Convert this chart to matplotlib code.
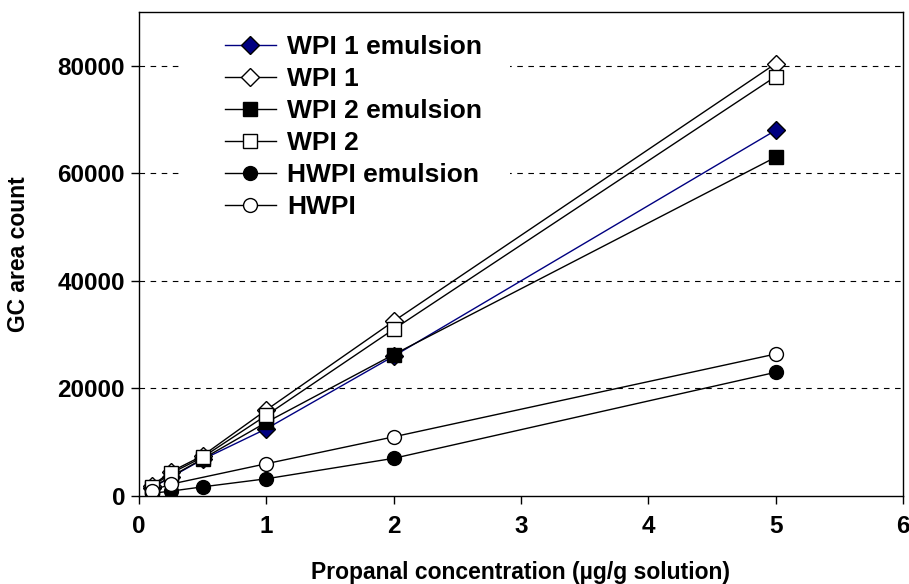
import numpy as np
import matplotlib
matplotlib.use("Agg")
import matplotlib.pyplot as plt
from matplotlib.patches import Rectangle

plt.rcParams['font.family'] = ['Liberation Sans', 'DejaVu Sans']
plt.rcParams['font.weight'] = 'bold'

# concentrations (ug/g)
conc = [0.1, 0.25, 0.5, 1, 2, 5]
conc_hwpi = [0.1, 0.25, 1, 2, 5]

# GC area counts
wpi1_em = [1500, 3500, 6800, 12500, 26000, 68000]
wpi1 = [1900, 4500, 7500, 16000, 32500, 80400]
wpi2_em = [1500, 3600, 6900, 13700, 26300, 63000]
wpi2 = [1700, 4200, 7200, 15000, 31000, 78000]
hwpi_em = [500, 900, 1700, 3200, 7000, 23000]
hwpi = [1000, 2200, 6000, 11000, 26400]

fig = plt.figure(figsize=(9.09, 5.84), dpi=100)
ax = fig.add_axes([0.1529, 0.1507, 0.8405, 0.8288])

ax.plot(conc, wpi1_em, color='#000080', lw=1, marker='D', ms=9,
        mfc='#000080', mec='black', mew=1, label='WPI 1 emulsion')
ax.plot(conc, wpi1, color='black', lw=1, marker='D', ms=9,
        mfc='white', mec='black', mew=1, label='WPI 1')
ax.plot(conc, wpi2_em, color='black', lw=1, marker='s', ms=10,
        mfc='black', mec='black', mew=1, label='WPI 2 emulsion')
ax.plot(conc, wpi2, color='black', lw=1, marker='s', ms=10,
        mfc='white', mec='black', mew=1, label='WPI 2')
ax.plot(conc, hwpi_em, color='black', lw=1, marker='o', ms=10,
        mfc='black', mec='black', mew=1, label='HWPI emulsion')
ax.plot(conc_hwpi, hwpi, color='black', lw=1, marker='o', ms=10,
        mfc='white', mec='black', mew=1, label='HWPI')

ax.set_xlim(0, 6)
ax.set_ylim(0, 90000)
ax.set_xticks(range(0, 7))
ax.set_yticks([0, 20000, 40000, 60000, 80000])

for yv in [20000, 40000, 60000, 80000]:
    ax.axhline(yv, color='black', lw=0.8, ls=(0, (5, 5)), zorder=0)

# white background of the legend area (hides the gridlines behind it)
ax.add_patch(Rectangle((0.054, 0.55), 0.432, 0.44, transform=ax.transAxes,
                       facecolor='white', edgecolor='none', zorder=0.5))

ax.tick_params(axis='both', direction='out', length=6, width=1,
               labelsize=17.5, colors='black')
ax.tick_params(axis='x', pad=8)
ax.tick_params(axis='y', pad=4)
for lab in ax.get_xticklabels() + ax.get_yticklabels():
    lab.set_fontweight('bold')
for sp in ax.spines.values():
    sp.set_linewidth(1)

ax.set_xlabel('Propanal concentration (\u00b5g/g solution)', fontsize=16.5,
              fontweight='bold')
ax.set_ylabel('GC area count', fontsize=16.5, fontweight='bold')
ax.xaxis.set_label_coords(0.5, -0.135)
ax.yaxis.set_label_coords(-0.142, 0.5)

leg = ax.legend(loc='upper left', bbox_to_anchor=(0.1056, 0.963),
                frameon=False, prop={'size': 19, 'weight': 'bold'},
                handlelength=1.93, handletextpad=0.42, labelspacing=0.3,
                borderpad=0.2, borderaxespad=0)
leg.set_zorder(5)

fig.savefig('out.png', dpi=100)
